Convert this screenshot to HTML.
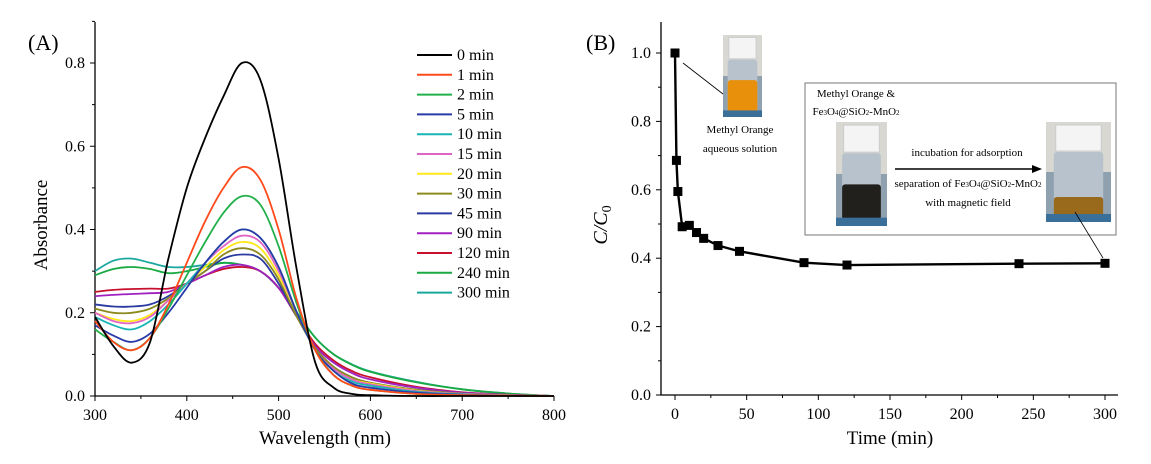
<!DOCTYPE html>
<html><head><meta charset="utf-8"><style>
body{margin:0;background:#fff;}
svg{display:block;font-family:"Liberation Serif",serif;}
</style></head><body>
<svg id="s" width="1151" height="464" viewBox="0 0 1151 464"></svg>
<script>
const wavelengths=[300,320,340,360,380,400,420,440,460,480,500,520,540,560,580,600,650,700,750,800];
const seriesNames=["0 min","1 min","2 min","5 min","10 min","15 min","20 min","30 min","45 min","90 min","120 min","240 min","300 min"];
const seriesColors=["#000000","#ff4a1c","#22b04a","#2a3aa6","#19b5b5","#e064c4","#ffe81a","#8c8a1e","#2a3aa0","#a020c0","#c8102e","#1aaa44","#1aa89e"];
const abs0=[0.19,0.12,0.08,0.13,0.33,0.50,0.62,0.72,0.80,0.76,0.57,0.30,0.08,0.02,0.005,0.002,0,0,0,0];
const abs1=[0.18,0.13,0.11,0.14,0.22,0.32,0.42,0.50,0.55,0.52,0.40,0.23,0.11,0.05,0.025,0.015,0.005,0.002,0.001,0];
const abs2=[0.16,0.13,0.11,0.14,0.21,0.29,0.37,0.44,0.48,0.46,0.36,0.22,0.11,0.05,0.025,0.015,0.005,0.002,0.001,0];
const abs5=[0.17,0.145,0.13,0.15,0.20,0.26,0.32,0.37,0.40,0.38,0.31,0.20,0.11,0.06,0.03,0.02,0.008,0.003,0.001,0];
const abs10=[0.19,0.17,0.16,0.18,0.22,0.27,0.32,0.37,0.40,0.38,0.31,0.20,0.11,0.06,0.035,0.025,0.01,0.004,0.001,0];
const abs15=[0.20,0.18,0.175,0.19,0.23,0.27,0.32,0.36,0.385,0.37,0.30,0.20,0.11,0.065,0.04,0.028,0.012,0.005,0.002,0];
const abs20=[0.20,0.185,0.18,0.195,0.23,0.27,0.31,0.35,0.37,0.355,0.29,0.20,0.11,0.065,0.04,0.03,0.013,0.005,0.002,0];
const abs30=[0.21,0.20,0.20,0.21,0.235,0.27,0.30,0.34,0.355,0.34,0.28,0.19,0.115,0.07,0.045,0.032,0.015,0.006,0.002,0];
const abs45=[0.22,0.215,0.215,0.22,0.24,0.27,0.30,0.33,0.34,0.33,0.27,0.19,0.115,0.07,0.045,0.032,0.015,0.006,0.002,0];
const abs90=[0.24,0.243,0.245,0.247,0.25,0.27,0.29,0.31,0.315,0.30,0.26,0.19,0.12,0.08,0.055,0.04,0.02,0.008,0.003,0];
const abs120=[0.25,0.255,0.257,0.258,0.258,0.27,0.29,0.305,0.31,0.30,0.26,0.19,0.125,0.085,0.06,0.045,0.022,0.009,0.003,0];
const abs240=[0.29,0.305,0.31,0.305,0.295,0.30,0.31,0.32,0.315,0.30,0.26,0.20,0.14,0.10,0.075,0.058,0.033,0.016,0.006,0];
const abs300=[0.30,0.325,0.33,0.32,0.31,0.31,0.315,0.32,0.315,0.30,0.26,0.20,0.14,0.10,0.076,0.059,0.034,0.016,0.006,0];
const absSeries=[abs0,abs1,abs2,abs5,abs10,abs15,abs20,abs30,abs45,abs90,abs120,abs240,abs300];
const xTicksA=[300,400,500,600,700,800];
const yTicksA=[0.0,0.2,0.4,0.6,0.8];
const times=[0,1,2,5,10,15,20,30,45,90,120,240,300];
const ratios=[1.0,0.686,0.595,0.492,0.496,0.475,0.458,0.437,0.420,0.387,0.380,0.384,0.385];
const xTicksB=[0,50,100,150,200,250,300];
const yTicksB=[0.0,0.2,0.4,0.6,0.8,1.0];

const NS="http://www.w3.org/2000/svg";
const svg=document.getElementById('s');
function mk(tag,attrs,parent){const e=document.createElementNS(NS,tag);for(const k in attrs)e.setAttribute(k,attrs[k]);(parent||svg).appendChild(e);return e;}
function txt(s,attrs,parent){const e=mk('text',attrs,parent);e.textContent=s;return e;}

const xA=v=>95+(v-300)*(554-95)/500;
const yA=v=>396-v*(396-63)/0.8;
const gA=mk('g',{});


let ax=mk('path',{d:`M95,22V396H554`,fill:'none',stroke:'#000','stroke-width':1.3},gA);


for(let v=300;v<=800;v+=50){mk('line',{x1:xA(v),x2:xA(v),y1:396,y2:v%100===0?401:399,stroke:'#000'},gA);}
for(let k=0;k<=9;k++){mk('line',{x1:95,x2:k%2===0?90:92,y1:yA(k/10),y2:yA(k/10),stroke:'#000'},gA);}
xTicksA.forEach(v=>{const t=txt(String(v),{x:xA(v),y:420,'font-size':16,'text-anchor':'middle'},gA);

});
yTicksA.forEach(v=>{const t=txt(v.toFixed(1),{x:85,y:yA(v)+5,'font-size':16,'text-anchor':'end'},gA);

});
let t=txt('Wavelength (nm)',{x:325,y:444,'font-size':19,'text-anchor':'middle'},gA);


t=txt('Absorbance',{x:0,y:0,'font-size':19,'text-anchor':'middle',transform:'translate(47,225) rotate(-90)'},gA);


t=txt('(A)',{x:28,y:50,'font-size':22},gA);



function smooth(pts){let d=`M${pts[0][0]},${pts[0][1]}`;for(let i=0;i<pts.length-1;i++){const p0=pts[i-1]||pts[i],p1=pts[i],p2=pts[i+1],p3=pts[i+2]||p2;
const c1=[p1[0]+(p2[0]-p0[0])/6,p1[1]+(p2[1]-p0[1])/6],c2=[p2[0]-(p3[0]-p1[0])/6,p2[1]-(p3[1]-p1[1])/6];
d+=`C${c1[0].toFixed(1)},${c1[1].toFixed(1)} ${c2[0].toFixed(1)},${c2[1].toFixed(1)} ${p2[0].toFixed(1)},${p2[1].toFixed(1)}`;}return d;}
for(let s=absSeries.length-1;s>=0;s--){
  const pts=wavelengths.map((w,i)=>[xA(w),yA(absSeries[s][i])]);
  const p=mk('path',{d:smooth(pts),fill:'none',stroke:seriesColors[s],'stroke-width':1.8},gA);
  
  
}
seriesNames.forEach((n,i)=>{const y=55+i*19.8;
  const g=mk('g',{},gA);
  
  
  mk('line',{x1:417,x2:452,y1:y,y2:y,stroke:seriesColors[i],'stroke-width':2},g);
  txt(n,{x:457,y:y+5,'font-size':16},g);});

const xB=v=>675+v*(1105-675)/300;
const yB=v=>395-v*(395-53);
const gB=mk('g',{});


ax=mk('path',{d:`M661,22V395H1118`,fill:'none',stroke:'#000','stroke-width':1.3},gB);


for(let v=0;v<=300;v+=25){mk('line',{x1:xB(v),x2:xB(v),y1:395,y2:v%50===0?400:398,stroke:'#000'},gB);}
for(let k=0;k<=10;k++){mk('line',{x1:661,x2:k%2===0?656:658,y1:yB(k/10),y2:yB(k/10),stroke:'#000'},gB);}
xTicksB.forEach(v=>{const t=txt(String(v),{x:xB(v),y:419,'font-size':16,'text-anchor':'middle'},gB);

});
yTicksB.forEach(v=>{const t=txt(v.toFixed(1),{x:651,y:yB(v)+5,'font-size':16,'text-anchor':'end'},gB);

});
t=txt('Time (min)',{x:890,y:444,'font-size':19,'text-anchor':'middle'},gB);


t=mk('text',{'font-size':20,'text-anchor':'middle','font-style':'italic',transform:'translate(607,225) rotate(-90)'},gB);
t.innerHTML='C/C<tspan font-style="normal" font-size="14" dy="4">0</tspan>';


t=txt('(B)',{x:586,y:50,'font-size':22},gB);


const ln=mk('polyline',{points:times.map((v,i)=>xB(v)+','+yB(ratios[i])).join(' '),fill:'none',stroke:'#000','stroke-width':2.4},gB);


times.forEach((v,i)=>{const r=mk('rect',{x:xB(v)-4.5,y:yB(ratios[i])-4.5,width:9,height:9,fill:'#000'},gB);

});

function bottle(x,y,w,h,liq,liqTop,name){const g=mk('g',{},gB);


mk('rect',{x:x,y:y,width:w,height:h,fill:'#8fa0ae'},g);
mk('rect',{x:x,y:y,width:w,height:h*0.5,fill:'#d9d7d2'},g);
mk('rect',{x:x+w*0.12,y:y+h*0.3,width:w*0.76,height:h*0.64,fill:'#b8c2cc',rx:3},g);
mk('rect',{x:x+w*0.12,y:y+h*liqTop,width:w*0.76,height:h*(0.94-liqTop),fill:liq,rx:3},g);
mk('rect',{x:x+w*0.15,y:y+h*0.03,width:w*0.7,height:h*0.26,fill:'#f4f4f4',stroke:'#ccc'},g);
mk('rect',{x:x,y:y+h*0.92,width:w,height:h*0.08,fill:'#3a6f9a'},g);}
bottle(723,35,39,82,'#e8900c',0.55,'methyl-orange-photo');
txt('Methyl Orange',{x:740,y:133,'font-size':11,'text-anchor':'middle'},gB);
txt('aqueous solution',{x:740,y:152,'font-size':11,'text-anchor':'middle'},gB);
mk('line',{x1:723,y1:94,x2:683,y2:63,stroke:'#000','stroke-width':0.8},gB);
const box=mk('rect',{x:805,y:83,width:311,height:152,fill:'#fff',stroke:'#777','stroke-width':1},gB);


txt('Methyl Orange &',{x:856,y:97,'font-size':11,'text-anchor':'middle'},gB);
t=mk('text',{x:856,y:115,'font-size':11,'text-anchor':'middle'},gB);
t.innerHTML='Fe<tspan font-size="7">3</tspan>O<tspan font-size="7">4</tspan>@SiO<tspan font-size="7">2</tspan>-MnO<tspan font-size="7">2</tspan>';
bottle(836,122,51,104,'#22201c',0.6,'mixture-photo');
bottle(1046,122,65,100,'#9a6a1c',0.75,'separated-photo');
txt('incubation for adsorption',{x:967,y:156,'font-size':11,'text-anchor':'middle'},gB);
mk('line',{x1:895,y1:169,x2:1034,y2:169,stroke:'#000','stroke-width':1.5},gB);
mk('path',{d:'M1042,169L1032,165V173Z',fill:'#000'},gB);
t=mk('text',{x:968,y:187,'font-size':11,'text-anchor':'middle'},gB);
t.innerHTML='separation of Fe<tspan font-size="7">3</tspan>O<tspan font-size="7">4</tspan>@SiO<tspan font-size="7">2</tspan>-MnO<tspan font-size="7">2</tspan>';
txt('with magnetic field',{x:968,y:206,'font-size':11,'text-anchor':'middle'},gB);
mk('line',{x1:1075,y1:212,x2:1103,y2:258,stroke:'#000','stroke-width':0.8},gB);
</script>
</body></html>
